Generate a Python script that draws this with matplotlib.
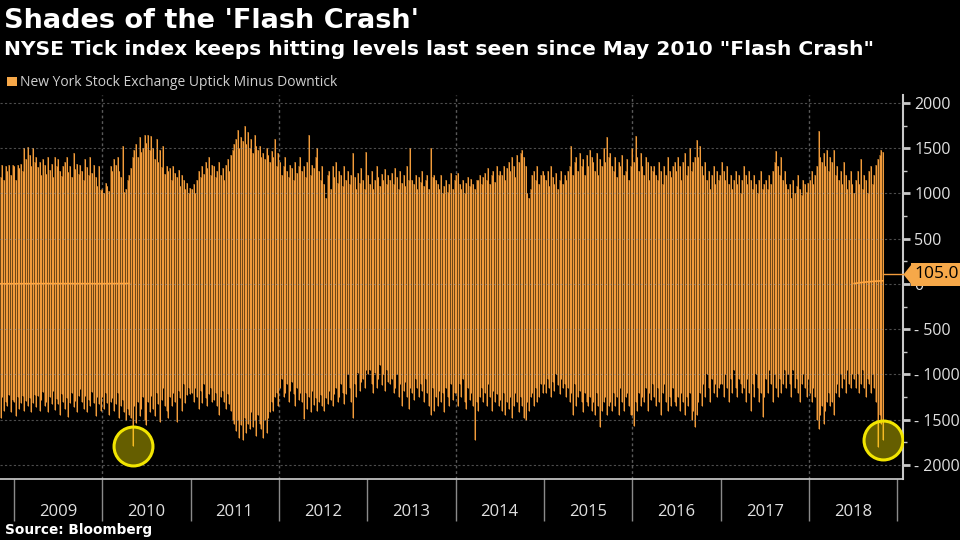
import numpy as np
import matplotlib
matplotlib.use('Agg')
import matplotlib.pyplot as plt
import matplotlib.dates as mdates
from matplotlib.patches import Rectangle
from matplotlib.ticker import FuncFormatter

# weekly high / low of the NYSE tick index
hi_2008 = [1180, 1320, 1150, 1300, 1250, 1320, 1200, 1310]
lo_2008 = [-1480, -1250, -1400, -1300, -1350, -1230, -1420, -1280]

hi_2009 = [1300, 1150, 1320, 1280, 1330, 1250, 1500, 1380, 1510, 1420, 1300, 1500, 1350,
           1400, 1290, 1350, 1200, 1380, 1310, 1220, 1400, 1260, 1330, 1180, 1400, 1300,
           1380, 1250, 1190, 1300, 1350, 1400, 1240, 1300, 1180, 1450, 1270, 1330, 1210,
           1310, 1250, 1150, 1380, 1290, 1200, 1400, 1230, 1320, 1180, 1080, 1300, 1040]
lo_2009 = [-1300, -1460, -1250, -1380, -1320, -1240, -1400, -1290, -1350, -1260, -1420, -1310, -1230,
           -1360, -1240, -1400, -1280, -1190, -1350, -1300, -1420, -1250, -1330, -1180, -1390, -1270,
           -1330, -1450, -1220, -1300, -1380, -1260, -1470, -1310, -1200, -1360, -1290, -1420, -1240,
           -1160, -1300, -1380, -1240, -1420, -1280, -1350, -1190, -1310, -1460, -1250, -1330, -1400]

hi_2010 = [1050, 1000, 1120, 1080, 1030, 1300, 1250, 1380, 1320, 1400, 1250, 1180, 1530,
           1020, 1050, 1150, 1200, 1280, 1400, 1480, 1550, 1400, 1620, 1460, 1500, 1650,
           1560, 1650, 1480, 1640, 1500, 1380, 1600, 1350, 1480, 1290, 1520, 1220, 1300,
           1250, 1280, 1150, 1300, 1230, 1180, 1260, 1080, 1200, 1150, 1050, 1120, 1000, 1060]
lo_2010 = [-1250, -1380, -1200, -1320, -1450, -1300, -1260, -1400, -1330, -1200, -1480, -1350, -1280,
           -1420, -1500, -1380, -1450, -1480, -1790, -1350, -1540, -1300, -1460, -1380, -1250, -1500,
           -1560, -1300, -1420, -1240, -1380, -1460, -1200, -1330, -1520, -1280, -1150, -1350, -1400,
           -1480, -1250, -1350, -1200, -1300, -1530, -1180, -1260, -1400, -1100, -1320, -1230, -1150, -1220]

hi_2011 = [1050, 1100, 1000, 1150, 1250, 1180, 1300, 1220, 1350, 1280, 1400, 1200, 1320,
           1300, 1180, 1250, 1350, 1200, 1280, 1150, 1320, 1380, 1250, 1420, 1480, 1550,
           1600, 1700, 1500, 1620, 1580, 1745, 1550, 1680, 1500, 1600, 1450, 1650, 1520,
           1480, 1520, 1400, 1450, 1380, 1500, 1420, 1350, 1470, 1400, 1600, 1300, 1450]
lo_2011 = [-1200, -1300, -1150, -1250, -1380, -1180, -1320, -1100, -1260, -1350, -1220, -1150, -1300,
           -1280, -1200, -1350, -1450, -1250, -1180, -1300, -1380, -1220, -1330, -1400, -1500, -1550,
           -1620, -1500, -1700, -1560, -1720, -1480, -1650, -1550, -1600, -1420, -1580, -1500, -1680,
           -1450, -1550, -1600, -1700, -1500, -1650, -1480, -1420, -1300, -1400, -1250, -1200, -1350]

hi_2012 = [1350, 1200, 1300, 1400, 1250, 1180, 1320, 1280, 1150, 1350, 1230, 1300, 1400,
           1250, 1300, 1180, 1350, 1650, 1200, 1320, 1280, 1400, 1500, 1250, 1150, 1300,
           1100, 950, 1200, 1250, 1050, 1300, 1180, 1350, 1120, 1250, 1200, 1080, 1300,
           1150, 1250, 1100, 1200, 1450, 1180, 1050, 1230, 1120, 1280, 1150, 1050, 1460]
lo_2012 = [-1150, -1050, -1250, -1200, -1100, -1300, -1180, -1080, -1220, -1350, -1150, -1280, -1200,
           -1300, -1490, -1200, -1380, -1250, -1420, -1180, -1340, -1260, -1400, -1300, -1230, -1350,
           -1400, -1260, -1330, -1180, -1280, -1350, -1220, -1150, -1300, -1250, -1100, -1200, -1330,
           -1220, -1000, -1150, -1300, -1480, -1100, -1250, -980, -1180, -1080, -1050, -1150, -950]

hi_2013 = [1200, 1100, 1250, 1050, 1150, 1300, 1180, 1080, 1220, 1150, 1270, 1100, 1200,
           1150, 1230, 1100, 1280, 1180, 1050, 1250, 1120, 1200, 1080, 1300, 1150, 1500,
           1150, 1100, 1200, 1050, 1180, 1130, 1250, 1080, 1150, 1200, 1050, 1500, 1180,
           1200, 1150, 1100, 1050, 1200, 1000, 1080, 1150, 1020, 1100, 1230, 1050, 1150]
lo_2013 = [-1000, -950, -1100, -1200, -980, -1150, -1050, -900, -1120, -1000, -1180, -950, -1080,
           -1100, -1050, -1200, -1150, -1000, -1250, -1100, -1350, -1180, -1080, -1250, -1380, -1150,
           -1200, -1280, -1050, -1150, -1250, -1100, -1180, -1300, -1050, -1200, -1350, -1450, -1150,
           -1400, -1250, -1350, -1180, -1300, -1200, -1420, -1150, -1250, -1350, -1100, -1280, -1200]

hi_2014 = [1200, 1230, 1100, 1050, 1150, 1000, 1120, 1180, 1080, 1160, 1100, 1050, 1150,
           1150, 1200, 1100, 1180, 1230, 1150, 1280, 1100, 1200, 1250, 1130, 1300, 1200,
           1250, 1200, 1300, 1150, 1280, 1350, 1250, 1400, 1300, 1180, 1420, 1350, 1450,
           1480, 1400, 1300, 1000, 950, 1050, 1200, 1250, 1150, 1300, 1100, 1200, 1250]
lo_2014 = [-1200, -1350, -1100, -1250, -1050, -1300, -1380, -1150, -1280, -1200, -1350, -1720, -1300,
           -1400, -1250, -1150, -1300, -1200, -1350, -1100, -1250, -1400, -1180, -1300, -1220, -1350,
           -1280, -1400, -1200, -1450, -1300, -1380, -1250, -1480, -1350, -1200, -1300, -1420, -1250,
           -1350, -1480, -1500, -1300, -1400, -1250, -1200, -1350, -1150, -1300, -1250, -1100, -1200]

hi_2015 = [1200, 1150, 1250, 1080, 1300, 1180, 1100, 1230, 1050, 1150, 1250, 1100, 1200,
           1150, 1250, 1300, 1530, 1200, 1350, 1400, 1250, 1450, 1300, 1380, 1200, 1420,
           1300, 1480, 1400, 1350, 1250, 1450, 1200, 1380, 1300, 1500, 1350, 1620, 1400,
           1450, 1300, 1250, 1400, 1180, 1350, 1300, 1420, 1200, 1250, 1380, 1150, 1300]
lo_2015 = [-1100, -1200, -1050, -1150, -1250, -1080, -1180, -1000, -1120, -1220, -1050, -1150, -1100,
           -1250, -1150, -1300, -1200, -1450, -1100, -1350, -1250, -1180, -1300, -1420, -1200, -1300,
           -1350, -1250, -1400, -1300, -1450, -1200, -1350, -1580, -1400, -1300, -1250, -1450, -1350,
           -1300, -1400, -1200, -1350, -1250, -1450, -1150, -1300, -1400, -1250, -1200, -1350, -1450]

hi_2016 = [1500, 1350, 1630, 1400, 1250, 1450, 1300, 1200, 1400, 1350, 1150, 1300, 1250,
           1300, 1200, 1150, 1350, 1250, 1100, 1300, 1200, 1400, 1250, 1180, 1300, 1350,
           1250, 1400, 1300, 1150, 1350, 1450, 1200, 1300, 1500, 1250, 1350, 1400, 1590,
           1400, 1520, 1300, 1200, 1350, 1150, 1250, 1050, 1200, 1300, 1100, 1250, 1150, 1200]
lo_2016 = [-1450, -1570, -1300, -1400, -1200, -1350, -1250, -1300, -1150, -1400, -1200, -1280, -1100,
           -1250, -1350, -1150, -1300, -1450, -1200, -1100, -1300, -1400, -1250, -1350, -1150, -1300,
           -1350, -1250, -1400, -1200, -1300, -1450, -1250, -1350, -1200, -1500, -1400, -1580, -1450,
           -1300, -1200, -1350, -1100, -1250, -1000, -1150, -1300, -1050, -1200, -1100, -1250, -1150, -1100]

hi_2017 = [1350, 1250, 1150, 1300, 1100, 1200, 1050, 1150, 1250, 1100, 1200, 1000, 1150,
           1300, 1200, 1100, 1250, 1150, 1050, 1200, 1100, 1000, 1150, 1250, 1050, 1100,
           1150, 1050, 1200, 1100, 1250, 1350, 1470, 1300, 1200, 1400, 1150, 1250, 1100,
           1050, 1100, 950, 1150, 1000, 1080, 1200, 1050, 980, 1150, 1100, 1020, 1120]
lo_2017 = [-1100, -1250, -1000, -1150, -1300, -1050, -1200, -950, -1150, -1250, -1050, -1100, -1200,
           -1150, -1300, -1050, -1200, -1400, -1100, -1250, -1000, -1150, -1300, -1200, -1470, -1250,
           -1050, -1200, -950, -1100, -1300, -1000, -1150, -1250, -1050, -1200, -1100, -950, -1150,
           -1000, -1100, -1250, -950, -1150, -1050, -1200, -1300, -1100, -1000, -1150, -1250, -1050]

hi_2018 = [1150, 1250, 1100, 1200, 1300, 1690, 1400, 1350, 1450, 1300, 1480, 1250, 1400,
           1350, 1480, 1200, 1300, 1150, 1250, 1100, 1350, 1200, 1050, 1150, 1250, 1100,
           1000, 1150, 1250, 1100, 1380, 1050, 1200, 1150, 1000, 1250, 1300, 1100, 1200,
           1320, 1380, 1420, 1480, 1460]
lo_2018 = [-1200, -1300, -1150, -1250, -1500, -1600, -1450, -1350, -1550, -1400, -1300, -1200, -1350,
           -1300, -1450, -1200, -1100, -1250, -1000, -1150, -1050, -1200, -950, -1100, -1150, -1000,
           -1050, -1150, -1000, -1200, -1100, -950, -1150, -1250, -1050, -1100, -1200, -1000, -1150,
           -1300, -1800, -1450, -1550, -1720]

years = list(range(2008, 2019))
highs = [hi_2008, hi_2009, hi_2010, hi_2011, hi_2012, hi_2013, hi_2014, hi_2015, hi_2016, hi_2017, hi_2018]
lows = [lo_2008, lo_2009, lo_2010, lo_2011, lo_2012, lo_2013, lo_2014, lo_2015, lo_2016, lo_2017, lo_2018]

# smoothed line near zero, only visible at the two ends of the chart
avg_left_dates = ['2008-11-07', '2009-06-05', '2010-01-01', '2010-04-23']
avg_left = [2, 4, 3, 5]
avg_right_dates = ['2018-07-06', '2018-08-17', '2018-09-28', '2018-11-02']
avg_right = [5, 20, 30, 35]

last_value = 105.0
circled = ['2010-05-07', '2018-11-02']

# build weekly dates (Fridays)
dates, hi, lo = [], [], []
for yr, h, l in zip(years, highs, lows):
    if yr == 2008:
        start = np.datetime64('2008-11-07')
    else:
        start = np.busday_offset(f'{yr}-01-01', 0, roll='forward', weekmask='Fri')
    dates.append(start + np.arange(len(h)) * 7)
    hi.extend(h)
    lo.extend(l)
dates = np.concatenate(dates)
x = mdates.date2num(dates)
hi = np.array(hi)
lo = np.array(lo)

plt.rcParams['font.family'] = 'Open Sans'

fig = plt.figure(figsize=(9.6, 5.4), dpi=100, facecolor='black')
ax = fig.add_axes([0, 61 / 540, 903 / 960, 384 / 540], facecolor='black')

orange = '#f29b3c'
# dark brown body under each bar, bright stroke on top
ax.vlines(x, lo, hi, colors='#704818', lw=1.4, zorder=2)
ax.vlines(x, lo, hi, colors=orange, lw=0.75, zorder=2.5)

ax.plot(mdates.date2num(np.array(avg_left_dates, dtype='datetime64[D]')), avg_left,
        color='#ffa640', lw=1.2, zorder=4)
ax.plot(mdates.date2num(np.array(avg_right_dates, dtype='datetime64[D]')), avg_right,
        color='#ffa640', lw=1.2, zorder=4)

xmin = mdates.date2num(np.datetime64('2008-11-04'))
xmax = mdates.date2num(np.datetime64('2019-01-24'))
ax.set_xlim(xmin, xmax)
ax.set_ylim(-2155, 2088)

# grid
for v in range(-2000, 2001, 500):
    ax.axhline(v, color='#9a9a9a', alpha=0.5, lw=0.8, ls=(0, (2, 2)), zorder=3)
for yr in [2010, 2012, 2014, 2016, 2018]:
    ax.axvline(mdates.date2num(np.datetime64(f'{yr}-01-01')), color='#5a5a5a',
               lw=1, ls=(0, (2, 2)), zorder=1)

# circles on the two lows
cidx = [np.where(dates == np.datetime64(d))[0][0] for d in circled]
ax.plot(x[cidx], lo[cidx], ls='none', marker='o', ms=28, mew=2.2,
        mfc=(1.0, 0.93, 0.0, 0.4), mec='#f2e500', zorder=5)

# last value tag
tag = '#f6a849'
ax.plot([x[-1], xmax], [last_value, last_value], color=orange, lw=1, zorder=4, clip_on=False)
ax.plot([1.0], [last_value], transform=ax.get_yaxis_transform(), ls='none',
        marker=[(0, 0), (0.8, -1), (0.8, 1), (0, 0)], ms=15, mfc=tag, mec='none',
        clip_on=False, zorder=6)
ax.annotate(f'{last_value:.1f}', xy=(1.0, last_value), xycoords=('axes fraction', 'data'),
            xytext=(8.5, 0), textcoords='offset points', va='center', ha='left',
            fontsize=12.5, color='black', zorder=7, annotation_clip=False,
            bbox=dict(boxstyle='square,pad=0.2', fc=tag, ec='none'))

# axes styling
for s in ['left', 'top']:
    ax.spines[s].set_visible(False)
ax.spines['right'].set_color('#c8c8c8')
ax.spines['right'].set_linewidth(1.5)
ax.spines['bottom'].set_color('#d0d0d0')
ax.spines['bottom'].set_linewidth(1.2)

ax.yaxis.tick_right()
ax.set_yticks(range(-2000, 2001, 500))
ax.set_yticks(range(-1750, 2000, 500), minor=True)
ax.yaxis.set_major_formatter(FuncFormatter(lambda v, p: f'{int(v)}'.replace('-', '- ')))
ax.tick_params(axis='y', which='major', direction='out', length=5, width=2,
               colors='#c8c8c8', labelcolor='#e0e0e0', labelsize=11.5, pad=3)
ax.tick_params(axis='y', which='minor', direction='out', length=3, width=1, colors='#c8c8c8')

ax.set_xticks(mdates.date2num(np.array([f'{y}-01-01' for y in range(2009, 2020)], dtype='datetime64[D]')))
ax.set_xticks(mdates.date2num(np.array([f'{y}-07-01' for y in range(2009, 2019)], dtype='datetime64[D]')),
              minor=True)
ax.set_xticklabels([])
ax.set_xticklabels([str(y) for y in range(2009, 2019)], minor=True)
ax.tick_params(axis='x', which='major', direction='out', length=30, width=1, colors='#8a8a8a')
ax.tick_params(axis='x', which='minor', length=0, labelcolor='#e0e0e0', labelsize=12, pad=18)

# titles, legend, source
fig.text(4 / 960, 1 - 28 / 540, "Shades of the 'Flash Crash'", family='DejaVu Sans',
         weight='bold', fontsize=19.5, color='white', va='baseline', ha='left')
fig.text(4 / 960, 1 - 55 / 540, 'NYSE Tick index keeps hitting levels last seen since May 2010 "Flash Crash"',
         family='DejaVu Sans', weight='bold', fontsize=14.6, color='white', va='baseline', ha='left')
fig.patches.append(Rectangle((7 / 960, 1 - 86 / 540), 10 / 960, 9 / 540, transform=fig.transFigure,
                             fc=tag, ec='none'))
fig.text(20 / 960, 1 - 86 / 540, 'New York Stock Exchange Uptick Minus Downtick', fontsize=10,
         color='#d0d0d0', va='baseline', ha='left')
fig.text(5 / 960, 1 - 534 / 540, 'Source: Bloomberg', family='DejaVu Sans', weight='bold',
         fontsize=9.8, color='white', va='baseline', ha='left')

fig.savefig('out.png', dpi=100, facecolor='black')
